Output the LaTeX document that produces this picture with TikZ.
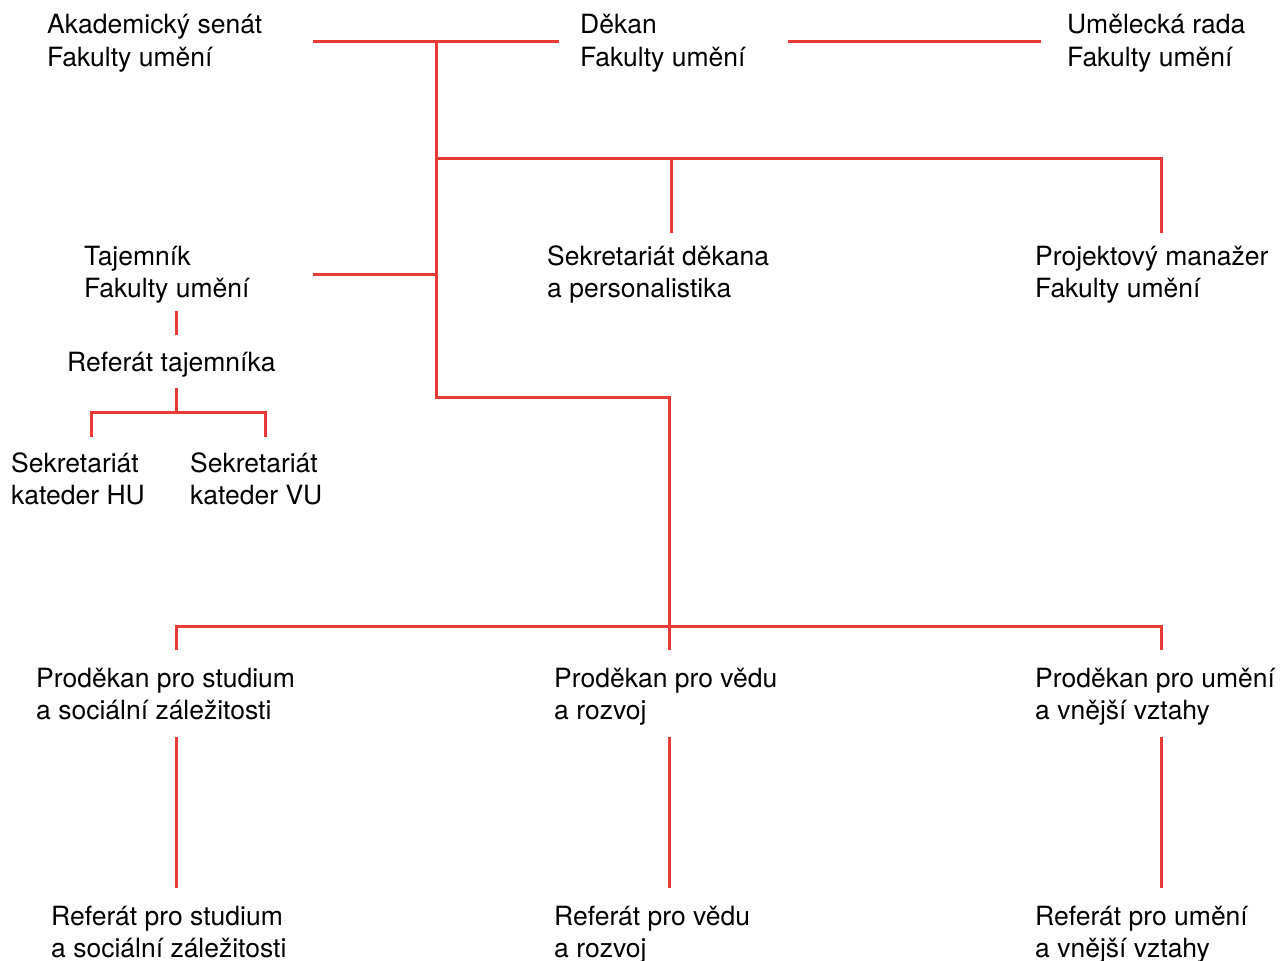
\documentclass[tikz,border=0pt]{standalone}
\usepackage{fontspec}
\setmainfont{TeX Gyre Heros}
\definecolor{orgred}{HTML}{E93A36}
\begin{document}
\begin{tikzpicture}[x=1pt,y=-1pt,
  lbl/.style={anchor=base west, inner sep=0pt, align=left,
              font=\fontsize{26.5}{32.5}\selectfont},
  link/.style={draw=orgred, line width=3pt}]
\useasboundingbox (0,0) rectangle (1280,961);

% ---- labels (positions are the baseline of the last line) ----
\node[lbl] (senat)    at (47,66.5)   {Akademický senát\\Fakulty umění};
\node[lbl] (dekan)    at (580,66.5)  {Děkan\\Fakulty umění};
\node[lbl] (rada)     at (1067,66.5) {Umělecká rada\\Fakulty umění};
\node[lbl] (tajemnik) at (84,297.5)  {Tajemník\\Fakulty umění};
\node[lbl] (sekdek)   at (547,297.5) {Sekretariát děkana\\a personalistika};
\node[lbl] (projekt)  at (1035,297.5){Projektový manažer\\Fakulty umění};
\node[lbl] (reftaj)   at (67,371)    {Referát tajemníka};
\node[lbl] (sekhu)    at (11,504.5)  {Sekretariát\\kateder HU};
\node[lbl] (sekvu)    at (190,504.5) {Sekretariát\\kateder VU};
\node[lbl] (prostud)  at (36,719.5)  {Proděkan pro studium\\a sociální záležitosti};
\node[lbl] (proved)   at (554,719.5) {Proděkan pro vědu\\a rozvoj};
\node[lbl] (proumeni) at (1035,719.5){Proděkan pro umění\\a vnější vztahy};
\node[lbl] (refstud)  at (51,957.5)  {Referát pro studium\\a sociální záležitosti};
\node[lbl] (refved)   at (554,957.5) {Referát pro vědu\\a rozvoj};
\node[lbl] (refumeni) at (1035,957.5){Referát pro umění\\a vnější vztahy};

% ---- connector end points and junctions ----
\coordinate (senatE)   at (313,41.5);
\coordinate (jTop)     at (436,41.5);
\coordinate (dekanW)   at (559,41.5);
\coordinate (dekanE)   at (788,41.5);
\coordinate (radaW)    at (1041,41.5);
\coordinate (jStaff)   at (436,158);
\coordinate (sekdekJ)  at (671,158);
\coordinate (sekdekN)  at (671,233);
\coordinate (projektJ) at (1161,158);
\coordinate (projektN) at (1161,233);
\coordinate (tajE)     at (313,274);
\coordinate (jTaj)     at (436,274);
\coordinate (jLow)     at (436,397);
\coordinate (jBend)    at (669,397);
\coordinate (provedN)  at (669,650);
\coordinate (jProL)    at (176,626);
\coordinate (jProR)    at (1161,626);
\coordinate (prostudN) at (176,650);
\coordinate (proumN)   at (1161,650);
\coordinate (tajS)     at (176,311);
\coordinate (reftajN)  at (176,335);
\coordinate (reftajS)  at (176,388);
\coordinate (jSek)     at (176,412);
\coordinate (jSekL)    at (91,412);
\coordinate (jSekR)    at (265,412);
\coordinate (sekhuN)   at (91,437);
\coordinate (sekvuN)   at (265,437);
\coordinate (prostudS) at (176,737);
\coordinate (refstudN) at (176,888);
\coordinate (provedS)  at (669,737);
\coordinate (refvedN)  at (669,888);
\coordinate (proumS)   at (1161,737);
\coordinate (refumN)   at (1161,888);

% ---- connectors ----
\draw[link] (senatE) -- (dekanW);
\draw[link] (dekanE) -- (radaW);
\draw[link] (jTop) -- (jLow) -- (jBend) -- (provedN);
\draw[link] (jStaff) -- (projektJ) -- (projektN);
\draw[link] (sekdekJ) -- (sekdekN);
\draw[link] (tajE) -- (jTaj);
\draw[link] (prostudN) -- (jProL) -- (jProR) -- (proumN);
\draw[link] (tajS) -- (reftajN);
\draw[link] (reftajS) -- (jSek);
\draw[link] (sekhuN) -- (jSekL) -- (jSekR) -- (sekvuN);
\draw[link] (prostudS) -- (refstudN);
\draw[link] (provedS) -- (refvedN);
\draw[link] (proumS) -- (refumN);
\end{tikzpicture}
\end{document}
